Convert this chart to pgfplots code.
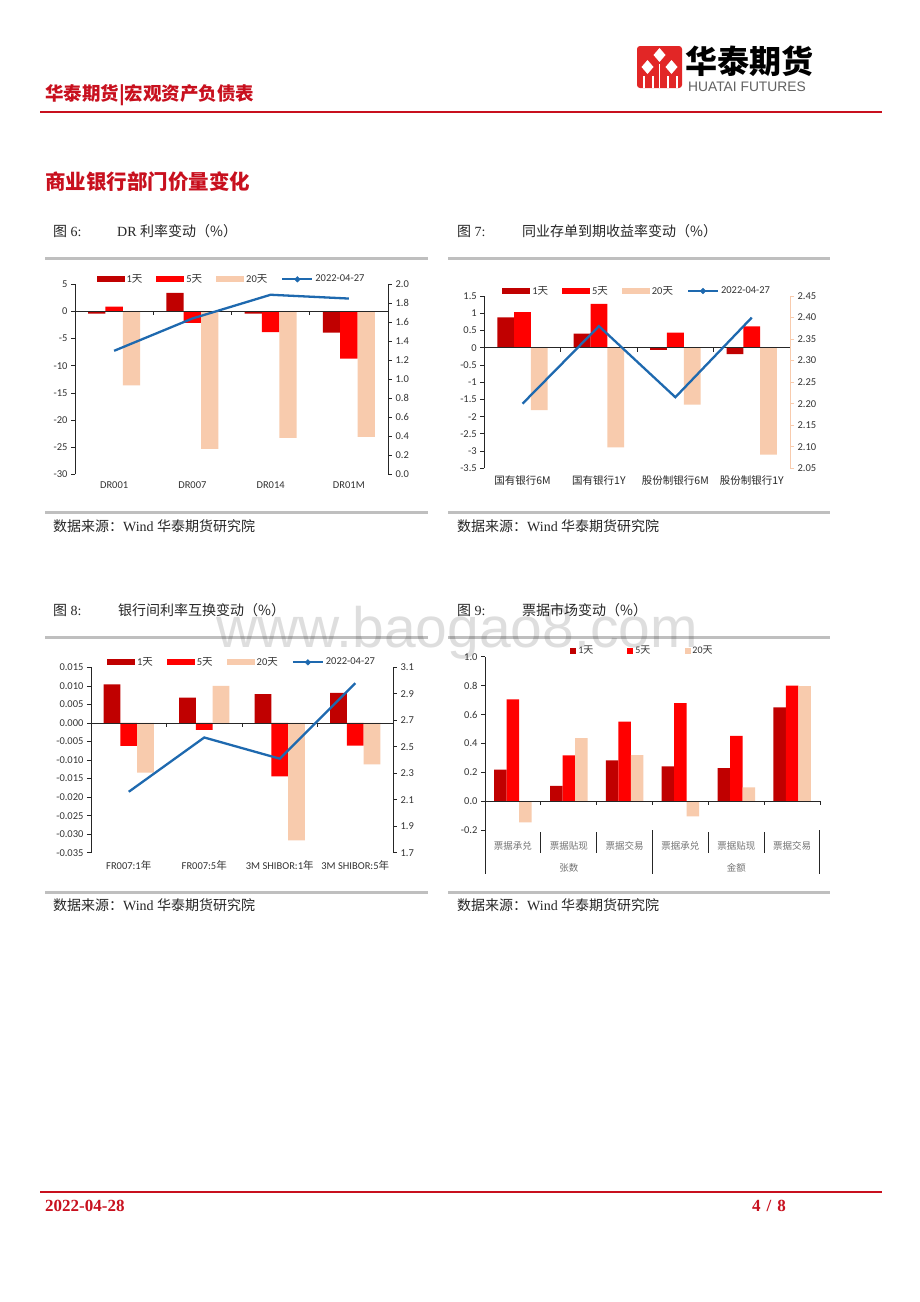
\documentclass[border=0pt]{standalone}
\usepackage{pgfplots}
\pgfplotsset{compat=1.18}
\usepackage{fontspec}
\setmainfont{Liberation Serif}
\newfontfamily\cjk{Noto Sans CJK SC}
\newfontfamily\calfont{Carlito}
\newfontfamily\arialfont{Liberation Sans}
\definecolor{c1}{RGB}{192,0,0}
\definecolor{c5}{RGB}{255,0,0}
\definecolor{c20}{RGB}{248,203,173}
\definecolor{cl}{RGB}{30,105,175}
\definecolor{hred}{RGB}{200,16,30}
\definecolor{rulegray}{RGB}{191,191,191}
\definecolor{lgred}{RGB}{226,38,38}
\newcommand{\fs}[1]{\fontsize{#1}{#1}\selectfont}

\pgfplotsset{
  base/.style={scale only axis, clip=false, anchor=south west,
    xmin=-0.5, xmax=3.5,
    tick align=outside, major tick length=4pt,
    tick label style={font=\calfont\fs{10.5}, text=black!80},
    /pgf/number format/assume math mode=true,
    axis line style={black!85, line width=0.7pt},
    every tick/.style={black!85, line width=0.7pt},
    scaled y ticks=false},
  leftax/.style={base, axis y line*=left, axis x line*=bottom,
    x axis line style={draw=none}, xtick style={draw=none},
    xtick={0,1,2,3},
    legend style={at={(0.5,1)}, anchor=center, yshift=5pt, draw=none, fill=none,
       legend columns=4, font=\calfont\fs{10.5}, text=black!80,
       /tikz/every even column/.append style={column sep=12pt}},
  },
  rightax/.style={base, axis y line*=right, axis x line=none},
  bA/.style={ybar, bar width=#1, bar shift=-#1, fill=c1, draw=none,
    legend image code/.code={\fill[c1] (0pt,-3pt) rectangle (28pt,3pt);}},
  bB/.style={ybar, bar width=#1, bar shift=0pt, fill=c5, draw=none,
    legend image code/.code={\fill[c5] (0pt,-3pt) rectangle (28pt,3pt);}},
  bC/.style={ybar, bar width=#1, bar shift=#1, fill=c20, draw=none,
    legend image code/.code={\fill[c20] (0pt,-3pt) rectangle (28pt,3pt);}},
  lineleg/.style={legend image code/.code={\draw[cl, line width=2pt] (0pt,0pt) -- (30pt,0pt);
    \fill[cl] (15pt,2.8pt) -- (17.8pt,0pt) -- (15pt,-2.8pt) -- (12.2pt,0pt) -- cycle;}},
  sq1/.style={ybar, bar width=12.5pt, bar shift=-12.5pt, fill=c1, draw=none,
    legend image code/.code={\fill[c1] (0pt,-3pt) rectangle (6pt,3pt);}},
  sq5/.style={ybar, bar width=12.5pt, bar shift=0pt, fill=c5, draw=none,
    legend image code/.code={\fill[c5] (0pt,-3pt) rectangle (6pt,3pt);}},
  sq20/.style={ybar, bar width=12.5pt, bar shift=12.5pt, fill=c20, draw=none,
    legend image code/.code={\fill[c20] (0pt,-3pt) rectangle (6pt,3pt);}},
}

\begin{document}
\begin{tikzpicture}
\path[fill=white, use as bounding box] (0pt,0pt) rectangle (920pt,-1302pt);

% ---------- header ----------
\fill[lgred, rounded corners=3pt] (637pt,-46pt) rectangle (682pt,-88pt);
\fill[white] (659.5pt,-48pt) -- (665.5pt,-55pt) -- (659.5pt,-62pt) -- (653.5pt,-55pt) -- cycle;
\fill[white] (647.5pt,-60pt) -- (653.5pt,-67pt) -- (647.5pt,-74pt) -- (641.5pt,-67pt) -- cycle;
\fill[white] (671.5pt,-60pt) -- (677.5pt,-67pt) -- (671.5pt,-74pt) -- (665.5pt,-67pt) -- cycle;
\foreach \xx in {643,652,667,676} {\fill[white] (\xx pt,-76pt) rectangle (\xx pt+1.6pt,-88pt);}
\fill[white] (658.7pt,-64pt) rectangle (660.3pt,-88pt);
\node[anchor=west, inner sep=0pt] at (685pt,-61pt) {\cjk\bfseries\fs{32}华泰期货};
\node[anchor=west, inner sep=0pt, text=black!62] at (688pt,-87pt) {\arialfont\fs{13.8}HUATAI FUTURES};
\node[anchor=west, inner sep=0pt, text=hred] at (45pt,-95pt) {\cjk\bfseries\fs{18.5}华泰期货|宏观资产负债表};
\draw[hred, line width=2pt] (40pt,-112pt) -- (882pt,-112pt);
\node[anchor=west, inner sep=0pt, text=hred] at (45pt,-182pt) {\cjk\bfseries\fs{20.5}商业银行部门价量变化};

% ---------- captions, rules, sources ----------
\foreach \yy in {258,512,637,892} {
  \draw[rulegray, line width=3pt] (45pt,-\yy pt) -- (428pt,-\yy pt);
  \draw[rulegray, line width=3pt] (448pt,-\yy pt) -- (830pt,-\yy pt);
}
\begin{scope}[every node/.style={anchor=west, inner sep=0pt, text=black!85}]
\node at (53pt,-231pt) {\fs{14}{\cjk 图} 6:};
\node at (117pt,-231pt) {\fs{14}DR {\cjk 利率变动（\%）}};
\node at (457pt,-231pt) {\fs{14}{\cjk 图} 7:};
\node at (522pt,-231pt) {\fs{14}{\cjk 同业存单到期收益率变动（\%）}};
\node at (53pt,-610pt) {\fs{14}{\cjk 图} 8:};
\node at (118pt,-610pt) {\fs{14}{\cjk 银行间利率互换变动（\%）}};
\node at (457pt,-610pt) {\fs{14}{\cjk 图} 9:};
\node at (522pt,-610pt) {\fs{14}{\cjk 票据市场变动（\%）}};
\node at (53pt,-526pt) {\fs{14}{\cjk 数据来源：}Wind {\cjk 华泰期货研究院}};
\node at (457pt,-526pt) {\fs{14}{\cjk 数据来源：}Wind {\cjk 华泰期货研究院}};
\node at (53pt,-905pt) {\fs{14}{\cjk 数据来源：}Wind {\cjk 华泰期货研究院}};
\node at (457pt,-905pt) {\fs{14}{\cjk 数据来源：}Wind {\cjk 华泰期货研究院}};
\end{scope}

% ---------- Chart 6 ----------
\begin{axis}[leftax, at={(75pt,-474.3pt)}, width=313pt, height=190pt,
  ymin=-30, ymax=5, ytick={-30,-25,-20,-15,-10,-5,0,5},
  xticklabels={DR001,DR007,DR014,DR01M}]
\addplot[bA=17.3pt] coordinates {(0,-0.4) (1,3.4) (2,-0.4) (3,-3.9)};
\addplot[bB=17.3pt] coordinates {(0,0.9) (1,-2.1) (2,-3.8) (3,-8.7)};
\addplot[bC=17.3pt] coordinates {(0,-13.6) (1,-25.3) (2,-23.3) (3,-23.1)};
\addlegendimage{lineleg}
\legend{1{\cjk 天},5{\cjk 天},20{\cjk 天},2022-04-27}
\draw[black!85, line width=0.7pt] (axis cs:-0.5,0) -- (axis cs:3.5,0);
\draw[black!85, line width=0.7pt] (axis cs:0.5,0) -- ++(0pt,-4pt);
\draw[black!85, line width=0.7pt] (axis cs:1.5,0) -- ++(0pt,-4pt);
\draw[black!85, line width=0.7pt] (axis cs:2.5,0) -- ++(0pt,-4pt);
\end{axis}
\begin{axis}[rightax, at={(75pt,-474.3pt)}, width=313pt, height=190pt,
  ymin=0, ymax=2, ytick={0,0.2,0.4,0.6,0.8,1,1.2,1.4,1.6,1.8,2},
  yticklabel style={/pgf/number format/fixed, /pgf/number format/fixed zerofill, /pgf/number format/precision=1}]
\addplot[cl, line width=2.3pt, mark=none] coordinates {(0,1.30) (1,1.64) (2,1.89) (3,1.85)};
\end{axis}

% ---------- Chart 7 ----------
\begin{axis}[leftax, at={(484.3pt,-468.3pt)}, width=305.7pt, height=172.3pt,
  ymin=-3.5, ymax=1.5, ytick={-3.5,-3,-2.5,-2,-1.5,-1,-0.5,0,0.5,1,1.5},
  yticklabel style={/pgf/number format/fixed},
  xticklabel style={font=\cjk\fs{10.5}, text=black!85},
  xticklabels={国有银行6M,国有银行1Y,股份制银行6M,股份制银行1Y}]
\addplot[bA=16.8pt] coordinates {(0,0.88) (1,0.41) (2,-0.06) (3,-0.19)};
\addplot[bB=16.8pt] coordinates {(0,1.03) (1,1.27) (2,0.44) (3,0.62)};
\addplot[bC=16.8pt] coordinates {(0,-1.81) (1,-2.89) (2,-1.65) (3,-3.10)};
\addlegendimage{lineleg}
\legend{1{\cjk 天},5{\cjk 天},20{\cjk 天},2022-04-27}
\draw[black!85, line width=0.7pt] (axis cs:-0.5,0) -- (axis cs:3.5,0);
\draw[black!85, line width=0.7pt] (axis cs:0.5,0) -- ++(0pt,-4pt);
\draw[black!85, line width=0.7pt] (axis cs:1.5,0) -- ++(0pt,-4pt);
\draw[black!85, line width=0.7pt] (axis cs:2.5,0) -- ++(0pt,-4pt);
\end{axis}
\begin{axis}[rightax, at={(484.3pt,-468.3pt)}, width=305.7pt, height=172.3pt,
  axis line style={c20, line width=0.7pt}, every tick/.style={c20, line width=0.7pt},
  ymin=2.05, ymax=2.45, ytick={2.05,2.10,2.15,2.20,2.25,2.30,2.35,2.40,2.45},
  yticklabel style={/pgf/number format/fixed, /pgf/number format/fixed zerofill, /pgf/number format/precision=2}]
\addplot[cl, line width=2.3pt, mark=none] coordinates {(0,2.20) (1,2.38) (2,2.215) (3,2.40)};
\end{axis}

% ---------- Chart 8 ----------
\begin{axis}[leftax, at={(91pt,-852.7pt)}, width=302pt, height=185.4pt,
  ymin=-0.035, ymax=0.015, ytick={-0.035,-0.03,-0.025,-0.02,-0.015,-0.01,-0.005,0,0.005,0.01,0.015},
  yticklabel style={/pgf/number format/fixed, /pgf/number format/fixed zerofill, /pgf/number format/precision=3},
  xticklabels={FR007:1{\cjk 年},FR007:5{\cjk 年},3M SHIBOR:1{\cjk 年},3M SHIBOR:5{\cjk 年}}]
\addplot[bA=16.7pt] coordinates {(0,0.0104) (1,0.0068) (2,0.0078) (3,0.0081)};
\addplot[bB=16.7pt] coordinates {(0,-0.0062) (1,-0.0019) (2,-0.0144) (3,-0.0061)};
\addplot[bC=16.7pt] coordinates {(0,-0.0134) (1,0.0100) (2,-0.0317) (3,-0.0112)};
\addlegendimage{lineleg}
\legend{1{\cjk 天},5{\cjk 天},20{\cjk 天},2022-04-27}
\draw[black!85, line width=0.7pt] (axis cs:-0.5,0) -- (axis cs:3.5,0);
\draw[black!85, line width=0.7pt] (axis cs:0.5,0) -- ++(0pt,-4pt);
\draw[black!85, line width=0.7pt] (axis cs:1.5,0) -- ++(0pt,-4pt);
\draw[black!85, line width=0.7pt] (axis cs:2.5,0) -- ++(0pt,-4pt);
\end{axis}
\begin{axis}[rightax, at={(91pt,-852.7pt)}, width=302pt, height=185.4pt,
  ymin=1.7, ymax=3.1, ytick={1.7,1.9,2.1,2.3,2.5,2.7,2.9,3.1},
  yticklabel style={/pgf/number format/fixed, /pgf/number format/fixed zerofill, /pgf/number format/precision=1}]
\addplot[cl, line width=2.3pt, mark=none] coordinates {(0,2.16) (1,2.57) (2,2.41) (3,2.98)};
\end{axis}

% ---------- Chart 9 ----------
\begin{axis}[leftax, at={(485pt,-830.3pt)}, width=335pt, height=173.6pt,
  xmin=-0.5, xmax=5.5, xtick={0,1,2,3,4,5},
  ymin=-0.2, ymax=1.0, ytick={-0.2,0,0.2,0.4,0.6,0.8,1.0},
  yticklabel style={/pgf/number format/fixed, /pgf/number format/fixed zerofill, /pgf/number format/precision=1},
  xticklabel style={font=\cjk\fs{9.5}, text=black!55, yshift=-4pt},
  xticklabels={票据承兑,票据贴现,票据交易,票据承兑,票据贴现,票据交易},
  legend style={xshift=-10pt, yshift=1pt, font=\calfont\fs{10}, /tikz/every even column/.append style={column sep=32pt}}]
\addplot[sq1] coordinates {(0,0.22) (1,0.108) (2,0.283) (3,0.242) (4,0.23) (5,0.65)};
\addplot[sq5] coordinates {(0,0.705) (1,0.318) (2,0.551) (3,0.68) (4,0.452) (5,0.80)};
\addplot[sq20] coordinates {(0,-0.145) (1,0.438) (2,0.32) (3,-0.104) (4,0.097) (5,0.797)};
\legend{1{\cjk 天},5{\cjk 天},20{\cjk 天}}
\draw[black!85, line width=0.7pt] (axis cs:-0.5,0) -- (axis cs:5.5,0);
\draw[black!85, line width=0.7pt] (axis cs:0.5,0) -- ++(0pt,-4pt);
\draw[black!85, line width=0.7pt] (axis cs:1.5,0) -- ++(0pt,-4pt);
\draw[black!85, line width=0.7pt] (axis cs:2.5,0) -- ++(0pt,-4pt);
\draw[black!85, line width=0.7pt] (axis cs:3.5,0) -- ++(0pt,-4pt);
\draw[black!85, line width=0.7pt] (axis cs:4.5,0) -- ++(0pt,-4pt);
\draw[black!85, line width=0.7pt] (axis cs:5.5,0) -- ++(0pt,-4pt);
\draw[black!85, line width=1pt] (axis cs:-0.5,-0.2) -- ++(0pt,-44pt);
\draw[black!85, line width=1pt] (axis cs:2.5,-0.2) -- ++(0pt,-44pt);
\draw[black!85, line width=1pt] (axis cs:5.5,-0.2) -- ++(0pt,-44pt);
\draw[black!85, line width=1pt] (axis cs:0.5,-0.2) ++(0pt,-2pt) -- ++(0pt,-21pt);
\draw[black!85, line width=1pt] (axis cs:1.5,-0.2) ++(0pt,-2pt) -- ++(0pt,-21pt);
\draw[black!85, line width=1pt] (axis cs:3.5,-0.2) ++(0pt,-2pt) -- ++(0pt,-21pt);
\draw[black!85, line width=1pt] (axis cs:4.5,-0.2) ++(0pt,-2pt) -- ++(0pt,-21pt);
\node[font=\cjk\fs{9.5}, text=black!55] at (axis cs:1,-0.2) [yshift=-38pt] {张数};
\node[font=\cjk\fs{9.5}, text=black!55] at (axis cs:4,-0.2) [yshift=-38pt] {金额};
\end{axis}

% ---------- watermark ----------
\node[anchor=center, inner sep=0pt, text=black, text opacity=0.13] at (457pt,-633pt) {\arialfont\fs{57}www.baogao8.com};

% ---------- footer ----------
\draw[hred, line width=2pt] (40pt,-1192pt) -- (882pt,-1192pt);
\node[anchor=west, inner sep=0pt, text=hred] at (45pt,-1206pt) {\bfseries\fs{17}2022-04-28};
\node[anchor=east, inner sep=0pt, text=hred] at (786pt,-1206pt) {\bfseries\fs{17}4\hspace{6pt}/\hspace{6pt}8};
\end{tikzpicture}
\end{document}
